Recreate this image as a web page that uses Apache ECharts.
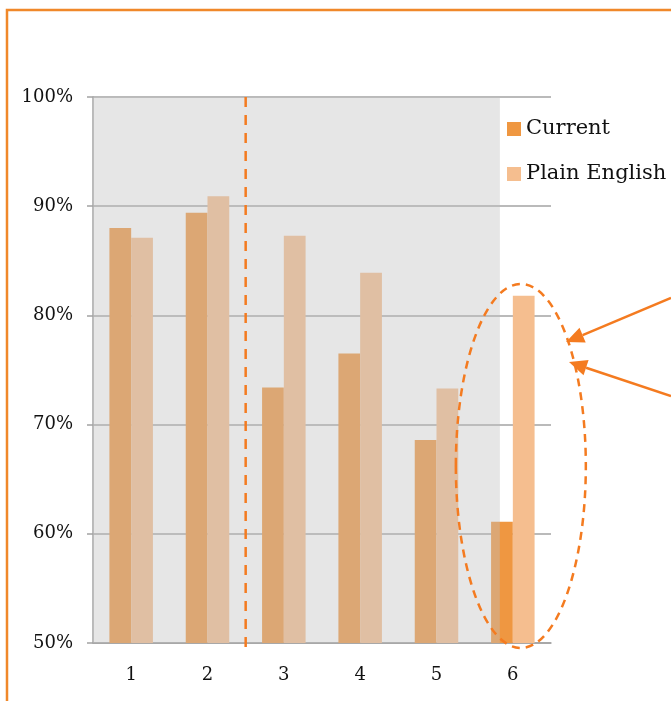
<!DOCTYPE html>
<html>
<head>
<meta charset="utf-8">
<script src="https://cdn.jsdelivr.net/npm/echarts@6/dist/echarts.min.js"></script>
<style>
  html, body { margin: 0; padding: 0; background: #fff; }
  #chart { width: 671px; height: 701px; }
</style>
</head>
<body>
<div id="chart"></div>
<script>
// data (percent)
const categories = ['1', '2', '3', '4', '5', '6']
const currentVals = [88.0, 89.4, 73.4, 76.5, 68.6, 61.1]
const plainVals = [87.1, 90.9, 87.3, 83.9, 73.3, 81.8]
const seriesNames = ['Current', 'Plain English']

const orange = '#F47B20'
const axisGrey = '#A3A3A3'
const font = 'DejaVu Serif'

const myChart = echarts.init(document.getElementById('chart'))

const option = {
  animation: false,
  backgroundColor: '#fff',
  grid: { left: 93, right: 120, top: 97, bottom: 58 },
  legend: {
    orient: 'vertical',
    left: 502,
    top: 112,
    itemWidth: 14,
    itemHeight: 14,
    itemGap: 21,
    icon: 'rect',
    textStyle: { fontFamily: font, fontSize: 21, color: '#111', lineHeight: 24 },
    data: seriesNames
  },
  xAxis: {
    type: 'category',
    data: categories,
    axisLine: { lineStyle: { color: axisGrey, width: 1.5 } },
    axisTick: { length: 6, lineStyle: { color: axisGrey, width: 1.5 } },
    axisLabel: { fontFamily: font, fontSize: 18, color: '#111', margin: 23 }
  },
  yAxis: {
    type: 'value',
    min: 50,
    max: 100,
    interval: 10,
    axisLine: { show: true, lineStyle: { color: axisGrey, width: 1.5 } },
    axisTick: { show: true, length: 6, lineStyle: { color: axisGrey, width: 1.5 } },
    axisLabel: { fontFamily: font, fontSize: 18, color: '#111', margin: 20, formatter: '{value}%' },
    splitLine: { lineStyle: { color: axisGrey, width: 1.5 } }
  },
  series: [
    {
      name: seriesNames[0],
      type: 'bar',
      data: currentVals,
      barGap: '0%',
      barCategoryGap: '43%',
      itemStyle: { color: '#EF9741' }
    },
    {
      name: seriesNames[1],
      type: 'bar',
      data: plainVals,
      itemStyle: { color: '#F5BE8F' }
    }
  ]
}

myChart.setOption(option)

// annotations placed from the axes
const p1 = myChart.convertToPixel({ xAxisIndex: 0 }, '1')
const p6 = myChart.convertToPixel({ xAxisIndex: 0 }, '6')
const band = (p6 - p1) / 5
const yTop = myChart.convertToPixel({ yAxisIndex: 0 }, 100)
const yBot = myChart.convertToPixel({ yAxisIndex: 0 }, 50)
const xLeft = p1 - band / 2
const shadeRight = p6 - 0.17 * band
const divX = p1 + 1.5 * band

function arrow(x0, y0, x1, y1) {
  const ang = Math.atan2(y1 - y0, x1 - x0)
  const len = 18, half = 8
  const bx = x1 - len * Math.cos(ang), by = y1 - len * Math.sin(ang)
  const nx = -Math.sin(ang) * half, ny = Math.cos(ang) * half
  return [
    {
      type: 'line', z: 30,
      shape: { x1: x0, y1: y0, x2: bx, y2: by },
      style: { stroke: orange, lineWidth: 2.5 }
    },
    {
      type: 'polygon', z: 30,
      shape: { points: [[x1, y1], [bx + nx, by + ny], [bx - nx, by - ny]] },
      style: { fill: orange }
    }
  ]
}

const ex = p6 + 8, ey = 466

myChart.setOption({
  graphic: [
    {
      type: 'rect', z: 10, silent: true,
      shape: { x: xLeft, y: yTop, width: shadeRight - xLeft, height: yBot - yTop },
      style: { fill: 'rgba(193,193,193,0.4)' }
    },
    {
      type: 'line', z: 20,
      shape: { x1: divX, y1: yTop, x2: divX, y2: yBot + 5 },
      style: { stroke: orange, lineWidth: 2.5, lineDash: [10, 8] }
    },
    {
      type: 'ellipse', z: 20,
      shape: { cx: ex, cy: ey, rx: 65, ry: 182 },
      style: { fill: null, stroke: orange, lineWidth: 2.5, lineDash: [8, 6] }
    },
    ...arrow(671, 298, 566, 342),
    ...arrow(671, 396, 569, 362),
    {
      type: 'rect', z: 40,
      shape: { x: 7, y: 10, width: 720, height: 760 },
      style: { fill: null, stroke: '#F0882A', lineWidth: 2.5 }
    }
  ]
})
</script>
</body>
</html>
